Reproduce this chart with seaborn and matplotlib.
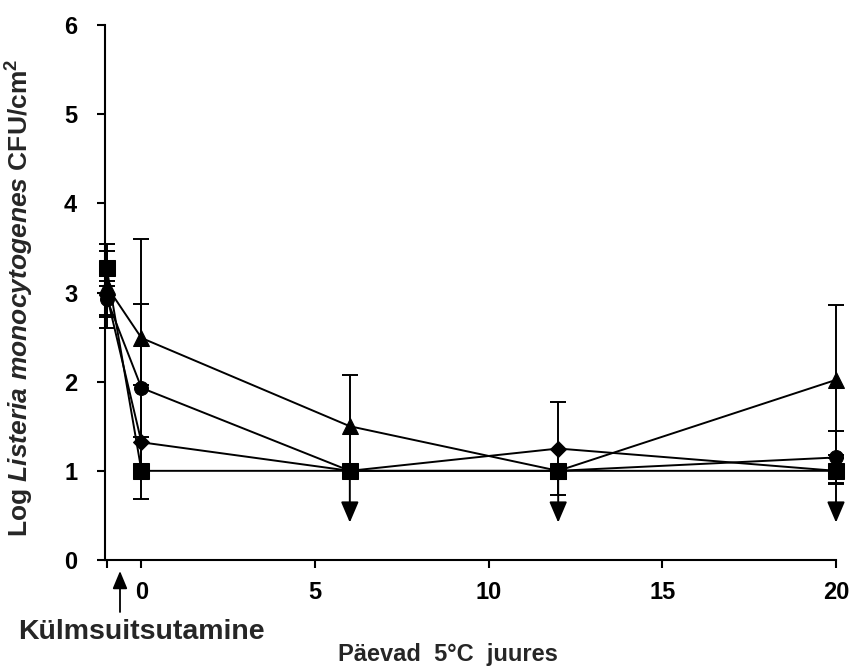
import matplotlib
matplotlib.use("Agg")
import matplotlib.pyplot as plt
import seaborn as sns
import pandas as pd

# Sampling days (day -1 = before cold smoking)
days = [-1, 0, 6, 12, 20]

# Mean log CFU/cm2 for each treatment
series_names = ["Proov A", "Proov B", "Proov C", "Proov D"]
triangle_vals = [3.07, 2.49, 1.50, 1.00, 2.02]
circle_vals = [2.93, 1.93, 1.00, 1.00, 1.15]
diamond_vals = [2.97, 1.32, 1.00, 1.25, 1.00]
square_vals = [3.27, 1.00, 1.00, 1.00, 1.00]

# Standard deviations
triangle_err = [0.47, 1.11, 0.58, 0.00, 0.84]
circle_err = [0.20, 0.94, 0.00, 0.00, 0.30]
diamond_err = [0.22, 0.64, 0.00, 0.52, 0.00]
square_err = [0.20, 0.00, 0.00, 0.00, 0.14]

# Below detection limit: arrows from the limit downward
limit_days = [6, 12, 20]
limit_level = 1.0
limit_arrow_tip = 0.42

x_ticks = [-1, 0, 5, 10, 15, 20]
x_tick_labels = ["", "0", "5", "10", "15", "20"]
y_ticks = [0, 1, 2, 3, 4, 5, 6]

sns.set_style("ticks")
plt.rcParams["font.family"] = ["Liberation Sans", "DejaVu Sans"]
plt.rcParams["font.weight"] = "bold"
plt.rcParams["mathtext.fontset"] = "custom"
plt.rcParams["mathtext.rm"] = "Liberation Sans:bold"
plt.rcParams["mathtext.bf"] = "Liberation Sans:bold"
plt.rcParams["mathtext.it"] = "Liberation Sans:bold:italic"

vals = [triangle_vals, circle_vals, diamond_vals, square_vals]
errs = [triangle_err, circle_err, diamond_err, square_err]
marker_shapes = ["^", "o", "D", "s"]
marker_sizes = [11, 10, 8, 11]

rows = []
for name, v in zip(series_names, vals):
    for d, y in zip(days, v):
        rows.append({"day": d, "logcfu": y, "series": name})
df = pd.DataFrame(rows)

fig = plt.figure(figsize=(8.56, 6.69), dpi=100)
ax = fig.add_axes([105 / 856, 1 - 560 / 669, (836 - 105) / 856, (560 - 25) / 669])

# Error bars first, so lines and markers sit on top
for v, e in zip(vals, errs):
    eb = ax.errorbar(days, v, yerr=e, fmt="none", ecolor="black",
                     elinewidth=1.4, capsize=6, capthick=1.4, zorder=2)
    for art in eb.lines[1] + eb.lines[2]:
        art.set_clip_on(False)

sns.lineplot(data=df, x="day", y="logcfu", hue="series", style="series",
             palette=["black"] * 4, markers=dict(zip(series_names, marker_shapes)),
             dashes=False, linewidth=1.4, markersize=10, markeredgecolor="black",
             estimator=None, legend=False, ax=ax, zorder=3)

# Adjust individual marker sizes; let points at the axis edge show fully
for line, ms in zip(ax.get_lines()[-4:], marker_sizes):
    line.set_markersize(ms)
    line.set_clip_on(False)

for d in limit_days:
    ax.annotate("", xy=(d, limit_arrow_tip), xytext=(d, limit_level),
                arrowprops=dict(arrowstyle="-|>,head_length=0.75,head_width=0.32",
                                color="black", lw=1.4, shrinkA=0, shrinkB=0,
                                mutation_scale=17),
                zorder=2)

ax.set_xlim(-1.05, 20)
ax.set_ylim(0, 6)
ax.set_xticks(x_ticks)
ax.set_xticklabels(x_tick_labels)
ax.set_yticks(y_ticks)
ax.tick_params(axis="both", labelsize=17, width=1.5, length=6, colors="black")
ax.tick_params(axis="y", pad=14)
ax.tick_params(axis="x", pad=9)
for lab in ax.get_xticklabels() + ax.get_yticklabels():
    lab.set_fontweight("bold")
sns.despine(ax=ax)
for s in ["left", "bottom"]:
    ax.spines[s].set_linewidth(1.5)
    ax.spines[s].set_color("black")

ax.set_xlabel("")
ax.set_ylabel(r"Log $\mathit{Listeria\ monocytogenes}$ CFU/cm$^{2}$",
              fontsize=19, fontweight="bold")
ax.yaxis.set_label_coords(-0.094, 0.49)

fig.text(448 / 856, 1 - 655 / 669, "Päevad  5°C  juures", ha="center", va="center",
         fontsize=17, fontweight="bold")
fig.text(141 / 856, 1 - 632 / 669, "Külmsuitsutamine", ha="center", va="center",
         fontsize=20.5, fontweight="bold")
fig.add_artist(matplotlib.patches.FancyArrowPatch(
    (120 / 856, 1 - 612 / 669), (120 / 856, 1 - 571 / 669),
    transform=fig.transFigure, arrowstyle="-|>,head_length=0.6,head_width=0.25",
    color="black", lw=1.3, mutation_scale=18, shrinkA=0, shrinkB=0))

fig.savefig("out.png", dpi=100)
